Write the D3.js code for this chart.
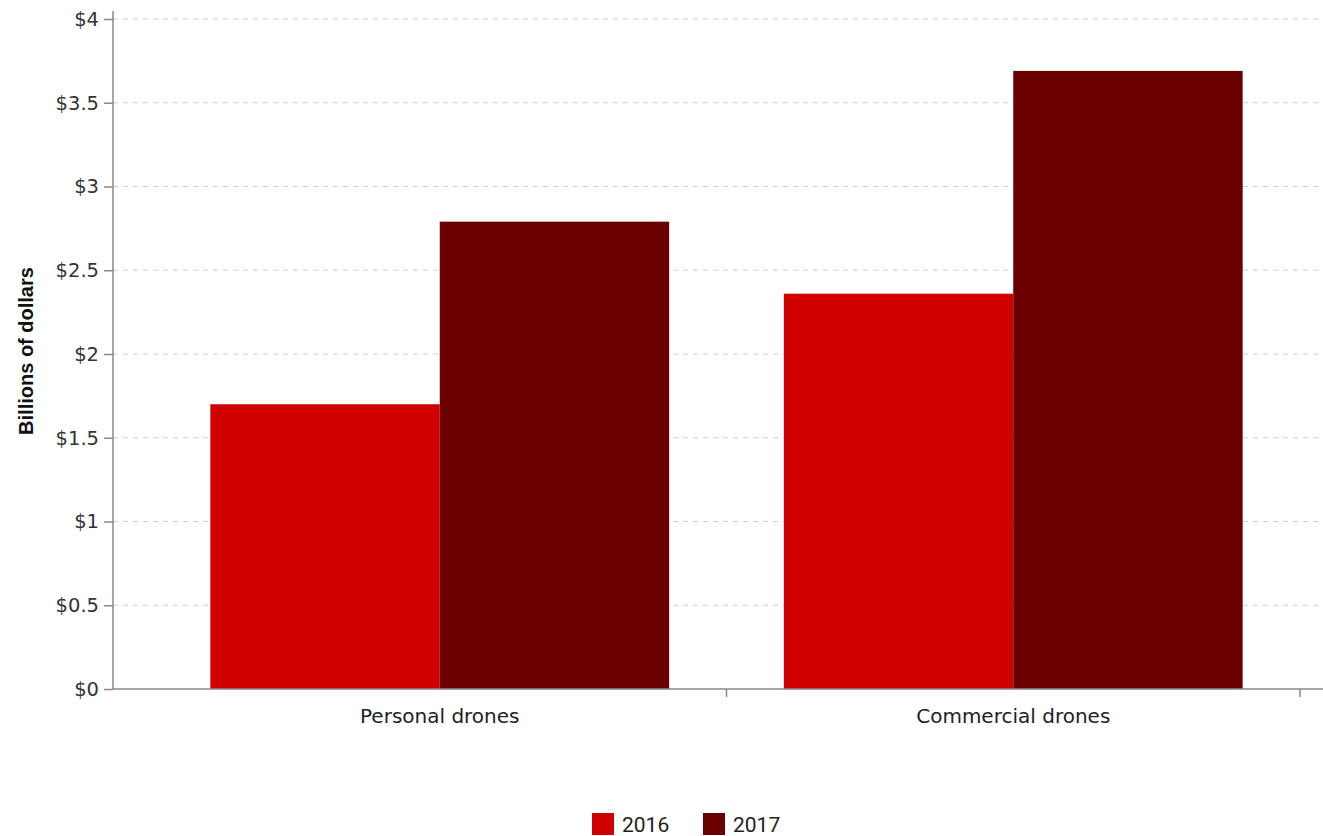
<!DOCTYPE html>
<html><head><meta charset="utf-8">
<script src="https://cdnjs.cloudflare.com/ajax/libs/d3/7.8.5/d3.min.js"></script>
<style>body{margin:0;background:#fff}svg{display:block}</style>
</head><body><svg id="c" width="1323" height="836"></svg>
<script>
const categories = ["Personal drones", "Commercial drones"];
const seriesNames = ["2016", "2017"];
const values2016 = [1.70, 2.36];
const values2017 = [2.79, 3.69];
const yTicks = [0, 0.5, 1, 1.5, 2, 2.5, 3, 3.5, 4];
const colors = ["#d10000", "#6b0000"];
const seriesValues = [values2016, values2017];

const svg = d3.select("#c");
const axisLeftX = 113, plotRight = 1323, yTop = 19, yBottom = 689;
const x = d3.scaleBand().domain(categories).range([153, 1300]).paddingInner(0).paddingOuter(0);
const xs = d3.scaleBand().domain(seriesNames).range([0, x.bandwidth()]).paddingInner(0).paddingOuter(0.25);
const y = d3.scaleLinear().domain([0, 4]).range([yBottom, yTop]);

// grid
svg.append("g").selectAll("line").data(yTicks.filter(d => d > 0)).join("line")
  .attr("x1", axisLeftX).attr("x2", plotRight)
  .attr("y1", d => y(d)).attr("y2", d => y(d))
  .attr("stroke", "#cfcfcf").attr("stroke-width", 1).attr("stroke-dasharray", "5,5");

// bars
const g = svg.append("g");
categories.forEach((c, i) => {
  seriesNames.forEach((s, j) => {
    g.append("rect")
      .attr("x", x(c) + xs(s)).attr("width", xs.bandwidth())
      .attr("y", y(seriesValues[j][i])).attr("height", y(0) - y(seriesValues[j][i]))
      .attr("fill", colors[j]);
  });
});

// y axis
const ya = svg.append("g").attr("transform", `translate(${axisLeftX},0)`)
  .call(d3.axisLeft(y).tickValues(yTicks).tickFormat(d => "$" + d).tickSize(9).tickPadding(5));
ya.select(".domain").attr("stroke", "#888").attr("stroke-width", 1.5).attr("d", `M0,${yTop - 8}V${yBottom}`);
ya.selectAll(".tick line").attr("stroke", "#888").attr("stroke-width", 1.5);
ya.selectAll(".tick text").attr("font-size", 19.5).attr("fill", "#333")
  .attr("font-family", "'DejaVu Sans', sans-serif");

// x axis
const xa = svg.append("g").attr("transform", `translate(0,${yBottom})`);
xa.append("line").attr("x1", axisLeftX).attr("x2", plotRight).attr("stroke", "#888").attr("stroke-width", 1.5);
const bounds = [x(categories[1]), x(categories[1]) + x.bandwidth()];
xa.selectAll(".bt").data(bounds).join("line").attr("class", "bt")
  .attr("x1", d => d).attr("x2", d => d).attr("y1", 0).attr("y2", 8)
  .attr("stroke", "#888").attr("stroke-width", 1.5);
xa.selectAll(".cl").data(categories).join("text").attr("class", "cl")
  .attr("x", d => x(d) + x.bandwidth() / 2).attr("y", 34)
  .attr("text-anchor", "middle").attr("font-size", 20).attr("fill", "#222")
  .attr("font-family", "'DejaVu Sans', sans-serif")
  .text(d => d);

// y label
svg.append("text").attr("transform", "translate(33,351) rotate(-90)")
  .attr("text-anchor", "middle").attr("font-size", 20).attr("font-weight", "bold").attr("fill", "#111")
  .attr("font-family", "'Liberation Sans', Arial, sans-serif")
  .text("Billions of dollars");

// legend
const legX = [592, 703];
const lg = svg.append("g");
seriesNames.forEach((s, j) => {
  lg.append("rect").attr("x", legX[j]).attr("y", 813).attr("width", 22).attr("height", 22).attr("fill", colors[j]);
  lg.append("text").attr("x", legX[j] + 30).attr("y", 832).attr("font-size", 21).attr("fill", "#222")
    .attr("font-family", "Roboto, sans-serif").text(s);
});
</script></body></html>
